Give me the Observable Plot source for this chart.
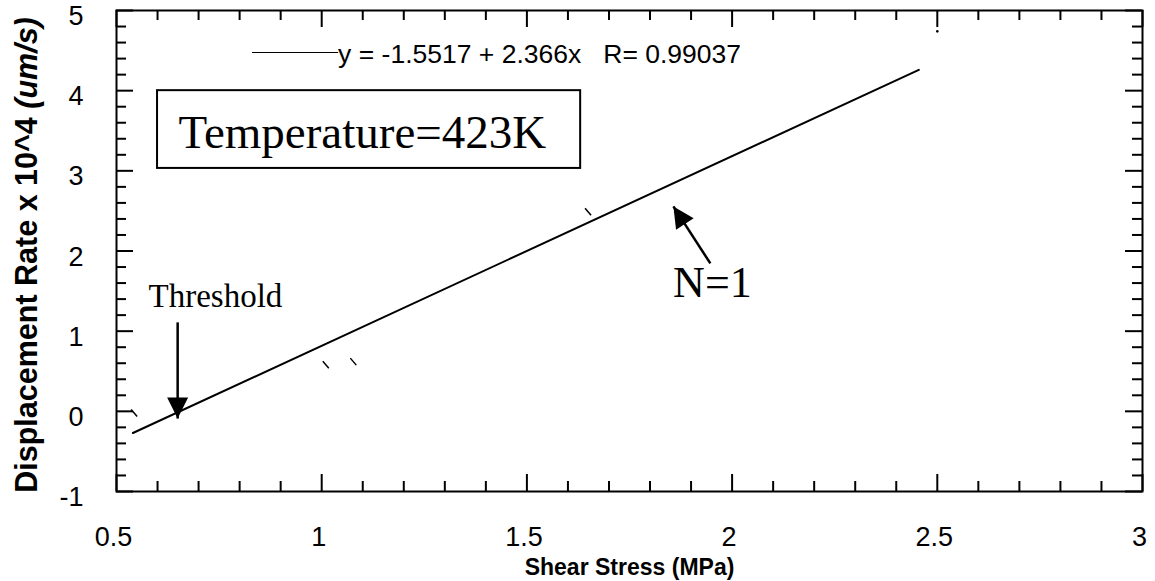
<!DOCTYPE html>
<html><head><meta charset="utf-8">
<script src="https://cdn.jsdelivr.net/npm/d3@7"></script>
<script src="https://cdn.jsdelivr.net/npm/@observablehq/plot@0.6"></script>
<style>html,body{margin:0;padding:0;background:#fff;} svg{display:block}</style>
</head><body><div id="chart"></div>
<script>
// ---- data ----
const xMajor = [0.5, 1, 1.5, 2, 2.5, 3];
const xMinor = [0.6, 0.7, 0.8, 0.9, 1.1, 1.2, 1.3, 1.4, 1.6, 1.7, 1.8, 1.9, 2.1, 2.2, 2.3, 2.4, 2.6, 2.7, 2.8, 2.9];
const yMajor = [-1, 0, 1, 2, 3, 4, 5];
const yMinor = [-0.8, -0.6, -0.4, -0.2, 0.2, 0.4, 0.6, 0.8, 1.2, 1.4, 1.6, 1.8, 2.2, 2.4, 2.6, 2.8, 3.2, 3.4, 3.6, 3.8, 4.2, 4.4, 4.6, 4.8];
const fitX = [0.54, 2.455];
const fitY = [-0.27, 4.26];
const markX = [0.543, 1.010, 1.077, 1.649];
const markY = [-0.02, 0.58, 0.62, 2.49];
const dotX = [2.5];
const dotY = [4.74];
const legendText = "y = -1.5517 + 2.366x   R= 0.99037";
const xTitle = "Shear Stress (MPa)";
const yTitleMain = "Displacement Rate x 10^4 ";
const yTitleUnit = "(um/s)";

// annotations (data coordinates)
const legendLine = [{x1: 0.83, x2: 1.04, y: 4.476}];
const legendLabel = [{x: 1.04, y: 4.35, text: legendText}];
const box = [{x1: 0.6, x2: 1.631, y1: 3.03, y2: 4.0}];
const boxLabel = [{x: 0.651, y: 3.29, text: "Temperature=423K"}];
const notes = [{x: 0.741, y: 1.297, text: "Threshold", size: 33}, {x: 1.952, y: 1.42, text: "N=1", size: 44}];
const arrows = [{x1: 0.649, y1: 1.11, x2: 0.649, y2: -0.09, rot: 180}, {x1: 1.947, y1: 1.845, x2: 1.857, y2: 2.556, rot: -33}];

// ---- layout ----
const W = 1155, H = 581, mL = 116, mR = 13, mT = 10, mB = 90;
const ph = H - mT - mB, pw = W - mL - mR;
const majorLen = 17, minorLen = 10;
const sans = "'Liberation Sans', Arial, Helvetica, sans-serif";
const serif = "'Liberation Serif', 'Times New Roman', Times, serif";

const fit = fitX.map((x, i) => ({x, y: fitY[i]}));
const marksData = markX.map((x, i) => ({x, y: markY[i]}));
const dotsData = dotX.map((x, i) => ({x, y: dotY[i]}));

const headSymbol = {draw(ctx) { ctx.moveTo(0, 0); ctx.lineTo(-10.5, 21); ctx.lineTo(10.5, 21); ctx.closePath(); }};
const slashSymbol = {draw(ctx) { ctx.moveTo(-3, -3.5); ctx.lineTo(3, 3.5); }};

const tk = {stroke: "#000", strokeWidth: 2};

const chart = Plot.plot({
  width: W, height: H,
  marginLeft: mL, marginRight: mR, marginTop: mT, marginBottom: mB,
  x: {domain: [0.5, 3]},
  y: {domain: [-1, 5]},
  style: {fontFamily: sans, color: "#000", background: "#fff"},
  marks: [
    Plot.axisX(xMajor, {tickSize: 0, tickPadding: 35, fontSize: 27, dx: -3, tickFormat: d => String(d), label: null}),
    Plot.axisY(yMajor, {tickSize: 0, tickPadding: 33, fontSize: 27, dy: 6, tickFormat: d => String(d), label: null}),
    // inward ticks on all four sides
    Plot.tickX(xMinor, {x: d => d, insetTop: ph - minorLen, ...tk}),
    Plot.tickX(xMinor, {x: d => d, insetBottom: ph - minorLen, ...tk}),
    Plot.tickX(xMajor, {x: d => d, insetTop: ph - majorLen, ...tk}),
    Plot.tickX(xMajor, {x: d => d, insetBottom: ph - majorLen, ...tk}),
    Plot.tickY(yMinor, {y: d => d, insetRight: pw - minorLen, ...tk}),
    Plot.tickY(yMinor, {y: d => d, insetLeft: pw - minorLen, ...tk}),
    Plot.tickY(yMajor, {y: d => d, insetRight: pw - majorLen, ...tk}),
    Plot.tickY(yMajor, {y: d => d, insetLeft: pw - majorLen, ...tk}),
    Plot.frame({stroke: "#000", strokeWidth: 2}),
    // fit line
    Plot.line(fit, {x: "x", y: "y", stroke: "#000", strokeWidth: 2}),
    // small residual marks
    Plot.dot(marksData, {x: "x", y: "y", symbol: slashSymbol, r: 4, fill: "none", stroke: "#000", strokeWidth: 1.5}),
    Plot.dot(dotsData, {x: "x", y: "y", r: 1.3, fill: "#000", stroke: "none"}),
    // legend
    Plot.link(legendLine, {x1: "x1", x2: "x2", y1: "y", y2: "y", stroke: "#000", strokeWidth: 1.2}),
    Plot.text(legendLabel, {x: "x", y: "y", text: "text", textAnchor: "start", lineAnchor: "bottom", fontSize: 26.5, fontFamily: sans, fill: "#000"}),
    // temperature box
    Plot.rect(box, {x1: "x1", x2: "x2", y1: "y1", y2: "y2", fill: "none", stroke: "#000", strokeWidth: 2}),
    Plot.text(boxLabel, {x: "x", y: "y", text: "text", textAnchor: "start", lineAnchor: "bottom", fontSize: 47, fontFamily: serif, fill: "#000"}),
    // notes + arrows
    Plot.text(notes, {x: "x", y: "y", text: "text", textAnchor: "middle", lineAnchor: "bottom", fontSize: d => d.size, fontFamily: serif, fill: "#000"}),
    Plot.link(arrows, {x1: "x1", y1: "y1", x2: "x2", y2: "y2", stroke: "#000", strokeWidth: 2.5}),
    Plot.dot(arrows, {x: "x2", y: "y2", rotate: "rot", symbol: headSymbol, r: 6, fill: "#000", stroke: "none"}),
    // axis titles
    Plot.text([xTitle], {text: d => d, frameAnchor: "bottom", textAnchor: "middle", dy: 83, lineAnchor: "bottom", fontSize: 23, fontWeight: "bold", fontFamily: sans, fill: "#000"}),
    Plot.text([yTitleMain + yTitleUnit], {text: d => d, frameAnchor: "left", textAnchor: "middle", dx: -80, dy: 4, rotate: -90, lineAnchor: "bottom", fontSize: 30.5, fontWeight: "bold", fontFamily: sans, fill: "#000"})
  ]
});
document.getElementById("chart").appendChild(chart);

// italic units in y title
d3.select(chart).selectAll("text").each(function() {
  if (this.textContent === yTitleMain + yTitleUnit) {
    const t = d3.select(this);
    t.text(null);
    t.append("tspan").text(yTitleMain);
    t.append("tspan").attr("font-style", "italic").text(yTitleUnit);
  }
});
</script>
</body></html>
